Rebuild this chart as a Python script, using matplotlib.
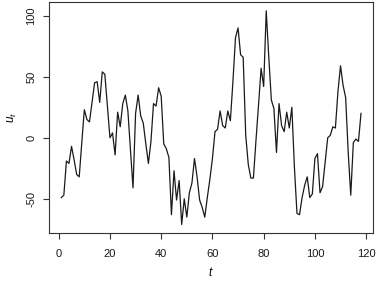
import matplotlib
matplotlib.use("Agg")
import matplotlib.pyplot as plt
import numpy as np

plt.rcParams['font.family'] = ['Liberation Sans', 'DejaVu Sans']
plt.rcParams['mathtext.fontset'] = 'custom'
plt.rcParams['mathtext.it'] = 'Liberation Sans:italic'
plt.rcParams['mathtext.rm'] = 'Liberation Sans'

t = list(range(1, 119))
u = [-49, -47, -19, -21, -7, -18, -30, -32, -4, 23,
     15, 13, 29, 45, 46, 29, 54, 52, 26, 0,
     4, -14, 21, 9, 28, 35, 22, -10, -41, 20,
     35, 18, 12, -5, -21, -3, 28, 26, 41, 34,
     -5, -9, -16, -63, -27, -51, -35, -71, -50, -65,
     -45, -37, -17, -32, -51, -57, -65, -49, -34, -17,
     5, 7, 22, 10, 8, 22, 14, 46, 82, 90,
     68, 66, 2, -22, -33, -33, -2, 27, 57, 42,
     104, 66, 31, 24, -12, 28, 10, 5, 21, 8,
     25, -24, -62, -63, -49, -39, -32, -49, -46, -17,
     -13, -45, -40, -20, 0, 2, 9, 8, 38, 59,
     43, 33, -12, -47, -4, -1, -3, 20]
xticks = [0, 20, 40, 60, 80, 100, 120]
yticks = [-50, 0, 50, 100]

fig = plt.figure(figsize=(3.78, 2.81), dpi=100)
ax = fig.add_axes([49.3/378, 1-233/281, (373-49.3)/378, (233-2.3)/281])
ax.plot(t, u, color='#1a1a1a', lw=0.9)

xr = max(t) - min(t)
yr = max(u) - min(u)
ax.set_xlim(min(t) - 0.04*xr, max(t) + 0.04*xr)
ax.set_ylim(min(u) - 0.04*yr, max(u) + 0.04*yr)

ax.set_xticks(xticks)
ax.set_xticklabels([str(v) for v in xticks])
ax.set_yticks(yticks)
ax.set_yticklabels([str(v) for v in yticks], rotation=90, va='center')
ax.tick_params(axis='both', direction='out', length=4.3, width=0.8,
               labelsize=8, colors='#333333', labelcolor='#1a1a1a')
ax.tick_params(axis='x', pad=7)
ax.tick_params(axis='y', pad=5)
for s in ax.spines.values():
    s.set_color('#333333')
    s.set_linewidth(0.8)

ax.set_xlabel('$t$', fontsize=8.5, labelpad=5)
ax.set_ylabel('$u_t$', fontsize=8.5, labelpad=5)

fig.savefig('out.png', dpi=100)
